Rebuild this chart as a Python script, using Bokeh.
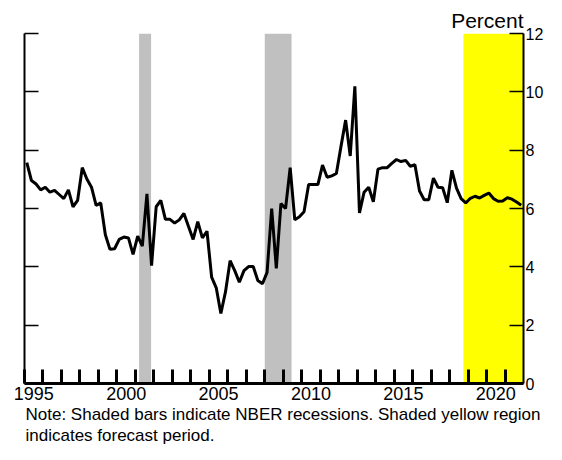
from bokeh.plotting import figure
from bokeh.models import (Range1d, LinearAxis, FixedTicker, BoxAnnotation, Title,
                          ColumnDataSource, CustomJSTickFormatter)
from bokeh.embed import file_html
from bokeh.resources import INLINE

# ---- data (quarterly, 1995Q1 .. 2021Q4) ----
first_year = 1995
rate = [
    7.57, 6.96, 6.84, 6.64, 6.73, 6.56, 6.62, 6.48,   # 1995-1996
    6.34, 6.64, 6.06, 6.28, 7.40, 7.01, 6.73, 6.11,   # 1997-1998
    6.19, 5.10, 4.60, 4.62, 4.94, 5.02, 4.99, 4.43,   # 1999-2000
    5.05, 4.71, 6.50, 4.04, 6.06, 6.28, 5.63, 5.63,   # 2001-2002
    5.50, 5.61, 5.83, 5.38, 4.94, 5.55, 4.99, 5.22,   # 2003-2004
    3.65, 3.28, 2.40, 3.14, 4.21, 3.87, 3.47, 3.87,   # 2005-2006
    4.01, 4.01, 3.53, 3.42, 3.81, 6.00, 3.95, 6.17,   # 2007-2008
    6.00, 7.40, 5.61, 5.72, 5.89, 6.82, 6.82, 6.82,   # 2009-2010
    7.49, 7.07, 7.12, 7.20, 8.13, 9.03, 7.80, 10.19,  # 2011-2012
    5.85, 6.56, 6.73, 6.23, 7.35, 7.40, 7.40, 7.55,   # 2013-2014
    7.68, 7.61, 7.65, 7.45, 7.50, 6.60, 6.30, 6.30,   # 2015-2016
    7.04, 6.73, 6.71, 6.20, 7.31, 6.70, 6.34, 6.19,   # 2017-2018
    6.35, 6.42, 6.36, 6.45, 6.53, 6.34, 6.25, 6.26,   # 2019-2020
    6.37, 6.32, 6.22, 6.11,                           # 2021
]
quarter_pos = [first_year + 0.125 + i / 4 for i in range(len(rate))]

recession_start = [2001.2, 2008.0]
recession_end = [2001.85, 2009.45]
forecast_start = 2018.75

x_start, x_end = 1995, 2022
year_ticks = list(range(1995, 2022))
label_years = [1995, 2000, 2005, 2010, 2015, 2020]
y_ticks = [0, 2, 4, 6, 8, 10, 12]

note_line1 = "Note:  Shaded bars indicate NBER recessions. Shaded yellow region"
note_line2 = "indicates forecast period."

FONT = "Liberation Sans"

p = figure(width=546, height=444, output_backend="svg", toolbar_location=None,
           x_range=Range1d(x_start, x_end), y_range=Range1d(0, 12),
           min_border_left=24, min_border_right=0, min_border_top=33,
           min_border_bottom=56, title=None)
p.grid.visible = False
p.outline_line_color = None

# shaded regions
for s, e in zip(recession_start, recession_end):
    p.add_layout(BoxAnnotation(left=s, right=e, fill_color="#C0C0C0", fill_alpha=1.0,
                               line_color=None, level="underlay"))
p.add_layout(BoxAnnotation(left=forecast_start, fill_color="#FFFF00", fill_alpha=1.0,
                           line_color=None, level="underlay"))

src = ColumnDataSource(dict(x=quarter_pos, y=rate))
p.line("x", "y", source=src, line_color="black", line_width=3)

# x axis: labels centred mid-year, year ticks as minor ticks
xa = p.xaxis[0]
xa.ticker = FixedTicker(ticks=[y + 0.5 for y in label_years], minor_ticks=year_ticks)
xa.formatter = CustomJSTickFormatter(code="return String(Math.floor(tick));")
xa.major_tick_in = 0
xa.major_tick_out = 0
xa.minor_tick_in = 14
xa.minor_tick_out = 0
xa.minor_tick_line_width = 3
xa.minor_tick_line_color = "black"
xa.axis_line_width = 3
xa.axis_line_color = "black"
xa.major_label_text_font = FONT
xa.major_label_text_font_size = "18px"
xa.major_label_text_color = "black"
xa.major_label_standoff = 3

# left axis: ticks only (as minor ticks, no labels)
ya = p.yaxis[0]
ya.ticker = FixedTicker(ticks=[], minor_ticks=y_ticks)
ya.major_tick_in = 0
ya.major_tick_out = 0
ya.minor_tick_in = 14
ya.minor_tick_out = 0
ya.minor_tick_line_width = 1.5
ya.minor_tick_line_color = "black"
ya.axis_line_width = 2

# right axis with labels
ra = LinearAxis(ticker=FixedTicker(ticks=y_ticks))
ra.major_tick_in = 14
ra.major_tick_out = 0
ra.minor_tick_in = 0
ra.minor_tick_out = 0
ra.axis_line_width = 2
ra.major_tick_line_width = 1.5
ra.major_label_text_font = FONT
ra.major_label_text_font_size = "16px"
ra.major_label_text_color = "black"
ra.major_label_standoff = 2
p.add_layout(ra, "right")

# "Percent" unit label
p.add_layout(Title(text="Percent", align="right", text_font=FONT, text_font_size="21px",
                   text_font_style="normal", text_color="black", standoff=4), "above")

# note lines
for line in (note_line1, note_line2):
    p.add_layout(Title(text=line, align="left", text_font=FONT, text_font_size="17px",
                       text_font_style="normal", text_color="black", standoff=0,
                       offset=1), "below")

open("out.html", "w").write(file_html(p, INLINE))
